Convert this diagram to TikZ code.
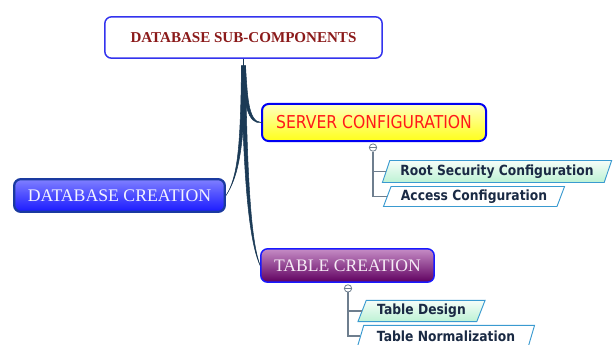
\documentclass[tikz,border=0pt]{standalone}
\usepackage{fontspec}
\setmainfont{Liberation Serif}
\newfontfamily\tahfont[FakeStretch=0.88]{DejaVu Sans}
\usetikzlibrary{calc,shapes.geometric}

\definecolor{rootred}{HTML}{8B1A1A}
\definecolor{rootblue}{HTML}{3333EE}
\definecolor{stemnavy}{HTML}{1B3A56}
\definecolor{treegray}{HTML}{6E7E8E}
\definecolor{leafblue}{HTML}{3A9AD0}
\definecolor{leafgreen}{HTML}{BDF2D4}
\definecolor{leafink}{HTML}{1A2A44}
\definecolor{dbcedge}{HTML}{1A3AA0}

\tikzset{
  topic/.style={rectangle, rounded corners=5pt, inner sep=0pt, align=center},
  leaf/.style={trapezium, trapezium left angle=64, trapezium right angle=116,
    trapezium stretches=true, draw=leafblue, line width=0.7pt, inner sep=0pt,
    font=\tahfont\bfseries\fontsize{10.5}{12}\selectfont, text=leafink},
  greenleaf/.style={leaf, top color=white!85!leafgreen, bottom color=leafgreen},
  whiteleaf/.style={leaf, fill=white},
  stem/.style={fill=stemnavy, draw=stemnavy, line width=0.4pt},
  twig/.style={draw=treegray, line width=1.1pt},
  toggle/.style={circle, draw=treegray, fill=white, minimum size=5.5pt,
    inner sep=0pt, line width=0.6pt}
}

\begin{document}
\begin{tikzpicture}[x=0.75pt,y=-0.75pt]
  \useasboundingbox (0,0) rectangle (613,344);
  % main topics
  \node[topic, draw=rootblue, fill=white, line width=1.1pt,
    minimum width=208pt, minimum height=31pt,
    font=\bfseries\fontsize{11.3}{13}\selectfont, text=rootred]
    (root) at (243.5,37.5) {DATABASE SUB-COMPONENTS};
  \node[topic, draw=dbcedge, line width=1.7pt,
    top color=blue!50!white, bottom color=blue!90!white,
    minimum width=158pt, minimum height=24.5pt,
    font=\fontsize{13.3}{15}\selectfont, text=blue!5!white]
    (dbc) at (119.5,195.5) {DATABASE CREATION};
  \node[topic, draw=blue!95!black, line width=1.5pt,
    top color=yellow!25!white, bottom color=yellow!90!white,
    minimum width=168pt, minimum height=27.8pt,
    font=\tahfont\fontsize{13.3}{15}\selectfont, text=red!90!white]
    (server) at (374,122.5) {SERVER CONFIGURATION};
  \node[topic, draw=blue!90!white, line width=1.1pt,
    top color=violet!45!white, bottom color=violet!75!black,
    minimum width=130pt, minimum height=25pt,
    font=\fontsize{13.2}{15}\selectfont, text=violet!8!white]
    (table) at (347.5,265.5) {TABLE CREATION};
  % sub topics
  \node[greenleaf, minimum width=172pt, minimum height=16.5pt]
    (rsc) at (497,171.5) {Root Security Configuration};
  \node[whiteleaf, minimum width=136pt, minimum height=15pt]
    (acc) at (474,196.5) {Access Configuration};
  \node[greenleaf, minimum width=96pt, minimum height=16pt]
    (tdes) at (421.5,311) {Table Design};
  \node[whiteleaf, minimum width=133pt, minimum height=16pt]
    (tnorm) at (446,336) {Table Normalization};
  % tapered branches from the root
  \coordinate (hub) at ($(root.south)+(0,7)$);
  \draw[stemnavy, line width=0.8pt] (root.south) -- (hub);
  \fill[stem] ($(hub)+(-2,0)$) .. controls ($(hub)+(0,38)$) and ($(server.west)+(-13,2)$) .. (server.west)
    .. controls ($(server.west)+(-13,-1)$) and ($(hub)+(4,30)$) .. ($(hub)+(2,0)$) -- cycle;
  \fill[stem] ($(hub)+(-2,0)$) .. controls ($(hub)+(-3,80)$) and ($(dbc.east)+(12,-18)$) .. (dbc.east)
    .. controls ($(dbc.east)+(13,-20)$) and ($(hub)+(1,80)$) .. ($(hub)+(2,0)$) -- cycle;
  \fill[stem] ($(hub)+(-2,0)$) .. controls ($(hub)+(0,140)$) and ($(table.west)+(-8,-18)$) .. (table.west)
    .. controls ($(table.west)+(-7,-19)$) and ($(hub)+(4,140)$) .. ($(hub)+(2,0)$) -- cycle;
  % sub topic trees
  \node[toggle] (stog) at ($(server.south)+(-1,5.5)$) {};
  \draw[twig] (stog.south) |- (acc.west);
  \draw[twig] (stog.south |- rsc.west) -- (rsc.west);
  \draw[treegray, line width=0.5pt] ($(stog.west)+(1.3,0)$) -- ($(stog.east)+(-1.3,0)$);
  \node[toggle] (ttog) at ($(table.south)+(0.5,5.5)$) {};
  \draw[twig] (ttog.south) |- (tnorm.west);
  \draw[twig] (ttog.south |- tdes.west) -- (tdes.west);
  \draw[treegray, line width=0.5pt] ($(ttog.west)+(1.3,0)$) -- ($(ttog.east)+(-1.3,0)$);
\end{tikzpicture}
\end{document}
